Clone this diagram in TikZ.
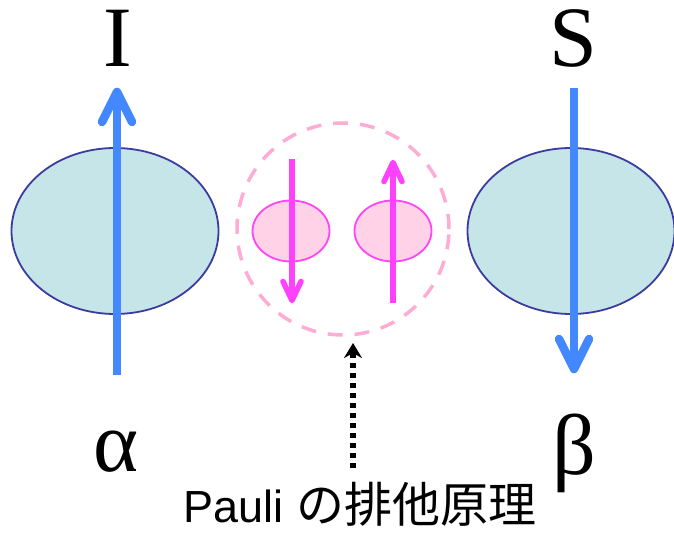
\documentclass[tikz,border=0pt]{standalone}
\usepackage{fontspec}
\setmainfont{Liberation Serif}
\newfontfamily\arialf{Liberation Sans}
\newfontfamily\cjkf{Noto Sans CJK JP}
\usetikzlibrary{arrows.meta,shapes.geometric,calc}
\definecolor{spinblue}{RGB}{68,136,255}
\definecolor{orbfill}{RGB}{197,229,232}
\definecolor{orbline}{RGB}{60,60,160}
\definecolor{dashpink}{RGB}{255,172,212}
\definecolor{smallfill}{RGB}{255,210,232}
\definecolor{smallline}{RGB}{255,70,240}
\definecolor{spinmag}{RGB}{255,64,255}
\tikzset{
  bigorb/.style={ellipse, draw=orbline, line width=1.8pt, fill=orbfill, minimum width=207pt, minimum height=166pt, inner sep=0pt},
  smallorb/.style={ellipse, draw=smallline, line width=1.8pt, fill=smallfill, minimum width=77pt, minimum height=61pt, inner sep=0pt},
  paircircle/.style={circle, draw=dashpink, line width=3.5pt, dash pattern=on 15pt off 11.9pt, minimum size=212pt, inner sep=0pt},
  bigspin/.style={draw=spinblue, line width=8.5pt},
  bigbarb/.style={draw=spinblue, line width=8.5pt, line cap=round, line join=round},
  smallspin/.style={draw=spinmag, line width=5.5pt},
  smallbarb/.style={draw=spinmag, line width=5.5pt, line cap=round, line join=round},
  pointer/.style={draw=black, line width=6pt, dash pattern=on 5pt off 5pt, -{Stealth[length=15pt, width=18pt]}},
  biglabel/.style={anchor=base, inner sep=0pt, font=\fontsize{86}{90}\selectfont},
  caption/.style={anchor=base, inner sep=0pt, font=\arialf\fontsize{45}{48}\selectfont}
}
\begin{document}
\begin{tikzpicture}[x=1pt,y=-1pt]
\useasboundingbox (0,0) rectangle (674,534);
% orbitals
\node[bigorb] (orbL) at (115,231) {};
\node[bigorb] (orbR) at (571,231) {};
\node[paircircle] (pair) at (343,229) {};
\node[smallorb] (smL) at (291,231) {};
\node[smallorb] (smR) at (393,231) {};
% big spins
\coordinate (spinLs) at (117,375);
\coordinate (spinLe) at (117,92);
\coordinate (spinRs) at (574,88);
\coordinate (spinRe) at (574,369);
\draw[bigspin] (spinLs) -- (spinLe);
\draw[bigbarb] ($(spinLe)+(-15,30)$) -- (spinLe) -- ($(spinLe)+(15,30)$);
\draw[bigspin] (spinRs) -- (spinRe);
\draw[bigbarb] ($(spinRe)+(-15,-30)$) -- (spinRe) -- ($(spinRe)+(15,-30)$);
% small spins
\coordinate (sLs) at (292,159);
\coordinate (sLe) at (292,300.5);
\coordinate (sRs) at (393,303);
\coordinate (sRe) at (393,162.5);
\draw[smallspin] (sLs) -- (sLe);
\draw[smallbarb] ($(sLe)+(-9,-19)$) -- (sLe) -- ($(sLe)+(9,-19)$);
\draw[smallspin] (sRs) -- (sRe);
\draw[smallbarb] ($(sRe)+(-9,19)$) -- (sRe) -- ($(sRe)+(9,19)$);
% labels
\node[biglabel] (labI) at (118,67) {I};
\node[biglabel] (labS) at (573,67) {S};
\node[biglabel] (labA) at (116,471) {α};
\node[biglabel] (labB) at (574,474) {β};
% pointer
\node[caption] (cap) at (360,522) {Pauli {\cjkf\fontsize{48}{50}\selectfont の排他原理}};
\coordinate (ptrS) at (353,468);
\coordinate (ptrE) at (353,343);
\draw[pointer] (ptrS) -- (ptrE);
\end{tikzpicture}
\end{document}
